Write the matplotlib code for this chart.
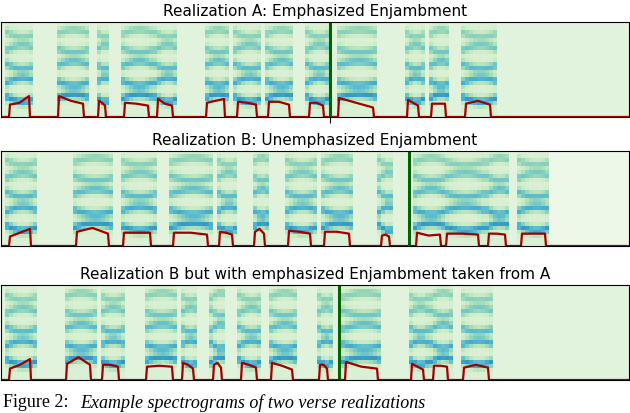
import numpy as np
import matplotlib
matplotlib.use("Agg")
import matplotlib.pyplot as plt

titles = ["Realization A: Emphasized Enjambment",
          "Realization B: Unemphasized Enjambment",
          "Realization B but with emphasized Enjambment taken from A"]
# syllable segments (start, end) in frame units, contour levels (start, mid, end)
seg_A = [(8, 29), (57, 83), (97, 105), (123, 148), (156, 172), (205, 224), (236, 256),
         (267, 289), (308, 323), (337, 373), (406, 418), (430, 445), (464, 490)]
lev_A = [(0.13, 0.15, 0.22), (0.22, 0.17, 0.14), (0.17, 0.15, 0.12), (0.15, 0.14, 0.12),
         (0.19, 0.14, 0.12), (0.15, 0.17, 0.19), (0.16, 0.15, 0.13), (0.16, 0.16, 0.13),
         (0.15, 0.15, 0.12), (0.20, 0.15, 0.10), (0.18, 0.15, 0.12), (0.14, 0.14, 0.14),
         (0.14, 0.17, 0.13)]
seg_B = [(8, 30), (75, 108), (122, 150), (172, 207), (218, 232), (253, 264), (287, 310),
         (323, 349), (380, 389), (415, 440), (445, 478), (487, 505), (520, 545)]
lev_B = [(0.10, 0.14, 0.18), (0.15, 0.19, 0.13), (0.14, 0.14, 0.14), (0.14, 0.14, 0.12),
         (0.15, 0.14, 0.12), (0.15, 0.18, 0.13), (0.16, 0.15, 0.13), (0.15, 0.15, 0.13),
         (0.11, 0.12, 0.10), (0.14, 0.11, 0.12), (0.13, 0.13, 0.12), (0.13, 0.13, 0.12),
         (0.13, 0.13, 0.13)]
seg_C = [(8, 30), (65, 90), (101, 118), (145, 172), (181, 193), (212, 221), (240, 256),
         (270, 292), (318, 327), (344, 377), (410, 423), (432, 447), (462, 488)]
lev_C = [(0.12, 0.16, 0.22), (0.17, 0.24, 0.16), (0.16, 0.16, 0.14), (0.14, 0.15, 0.14),
         (0.18, 0.16, 0.12), (0.16, 0.18, 0.13), (0.18, 0.16, 0.13), (0.18, 0.15, 0.11),
         (0.16, 0.16, 0.12), (0.19, 0.14, 0.12), (0.17, 0.14, 0.11), (0.15, 0.15, 0.14),
         (0.13, 0.16, 0.13)]
boundaries = [329, 408, 338]
spec_end = [628, 548, 628]
formants = [0.2, 0.37, 0.55, 0.72, 0.88]
segments = [seg_A, seg_B, seg_C]
levels = [lev_A, lev_B, lev_C]

W = 628
NF = 24
NX = 157
fig = plt.figure(figsize=(6.3, 4.14), dpi=100)
tops = [23, 152, 286]
h = 95
for i in range(3):
    ax = fig.add_axes([1 / 630, 1 - (tops[i] + h) / 414, 628 / 630, h / 414])
    x = (np.arange(NX) + 0.5) * W / NX
    f = (np.arange(NF) + 0.5) / NF
    img = np.full((NF, NX), 0.12)
    img[:, x > spec_end[i]] = 0.05
    for k, (s, e) in enumerate(segments[i]):
        m = (x >= s - 2) & (x <= e + 4)
        for j, fc in enumerate(formants):
            shift = 0.04 * np.sin(np.pi * (x[m] - s) / (e - s + 6)) * (1 if (k + j) % 2 else -1)
            band = np.exp(-((f[:, None] - fc - shift[None, :]) / 0.05) ** 2)
            img[:, m] = np.maximum(img[:, m], 0.16 + (0.55 - 0.06 * j) * band)
    ax.imshow(img, origin="lower", extent=(0, W, 0, 1), aspect="auto", cmap="GnBu",
              vmin=0, vmax=1, interpolation="nearest")
    xs, ys = [0], [0.0]
    for (s, e), (a, b, c) in zip(segments[i], levels[i]):
        xs += [s, s + 1, (s + e) / 2, e - 1, e]
        ys += [0, a, b, c, 0]
    xs.append(W)
    ys.append(0)
    ax.plot(xs, ys, color="#a00000", lw=1.6)
    ax.axvline(boundaries[i], color="#006400", lw=2.2)
    ax.set_xlim(0, W)
    ax.set_ylim(0, 1)
    ax.set_yticks([])
    if i == 0:
        ax.set_xticks([boundaries[i]])
        ax.set_xticklabels([""])
        ax.tick_params(axis="x", length=4, width=0.8)
    else:
        ax.set_xticks([])
    ax.set_title(titles[i], fontsize=11, pad=5)

fig.text(0.005, 1 - 403 / 414, "Figure 2:", fontsize=13, family="Liberation Serif",
         va="center", ha="left")
fig.text(0.128, 1 - 403 / 414, "Example spectrograms of two verse realizations",
         fontsize=13, family="Liberation Serif", style="italic", va="center", ha="left")
fig.savefig("out.png", dpi=100)
